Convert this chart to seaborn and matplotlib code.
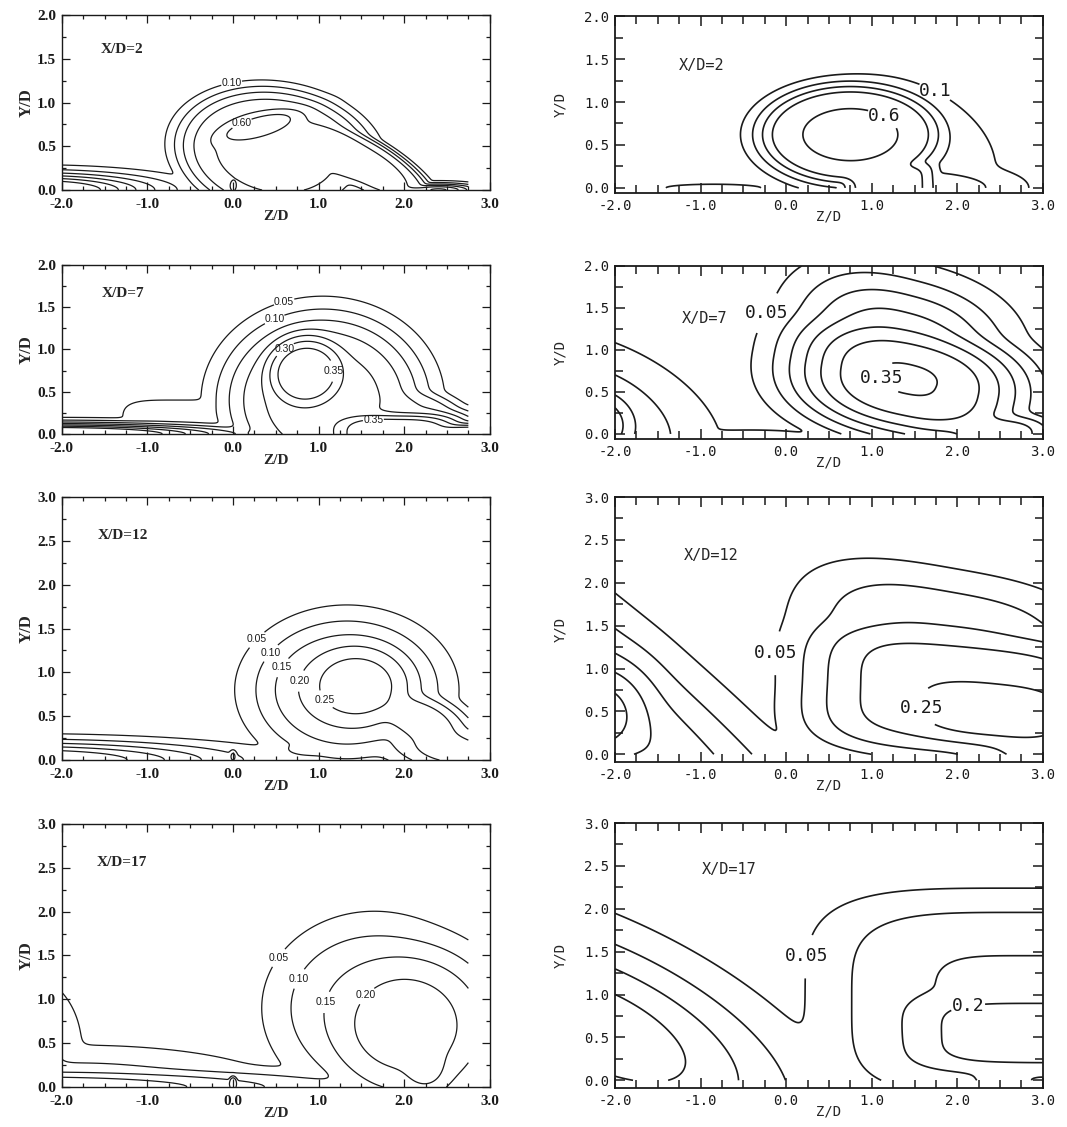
import numpy as np
import matplotlib
matplotlib.use("Agg")
import matplotlib.pyplot as plt
import seaborn as sns

# ---------------------------------------------------------------------------
# Data: concentration fields, built from plume "blobs"
# blob = (z centre, y centre, peak, spread along, spread across, tilt deg,
#         edge sharpness p, squareness q)
# c* = computed (left column), e* = measured (right column)
# ---------------------------------------------------------------------------
c2_blobs = [
    (0.50, 0.42, 0.52, 1.20, 0.76, -8, 6, 2),
    (1.55, 0.28, 0.52, 0.95, 0.32, -30, 6, 2),
    (0.30, 0.72, 0.75, 0.70, 0.20, 15, 2, 2),
    (2.40, 0.00, 0.62, 0.50, 0.08, 0, 2, 2),
    (-2.30, 0.00, 0.80, 1.40, 0.20, 0, 2, 2),
    (0.00, 0.04, 0.58, 0.06, 0.10, 0, 2, 2),
]
c2_levels = [0.1, 0.2, 0.3, 0.4, 0.5, 0.6]
c2_labels = [(0.10, -0.02, 1.24), (0.60, 0.12, 0.72)]

c7_blobs = [
    (1.05, 0.40, 0.27, 1.25, 1.08, 0, 4, 2),
    (0.85, 0.72, 0.40, 0.60, 0.55, 10, 3, 2),
    (-2.20, 0.00, 0.50, 2.30, 0.13, 0, 2, 2),
    (-0.65, 0.12, 0.085, 0.75, 0.33, 0, 4, 4),
    (1.90, 0.00, 0.42, 0.95, 0.30, 0, 3, 3),
    (2.20, 0.25, 0.20, 0.70, 0.30, -20, 3, 2),
    (2.80, 0.00, 0.45, 0.80, 0.16, 0, 2, 2),
]
c7_levels = [0.05, 0.10, 0.15, 0.20, 0.25, 0.30, 0.35]
c7_labels = [(0.05, 0.58, 1.63), (0.10, 0.45, 1.45), (0.30, 0.62, 0.98),
             (0.35, 1.10, 0.74), (0.35, 1.63, 0.39)]

c12_blobs = [
    (1.33, 0.80, 0.22, 1.15, 0.85, 0, 3, 2),
    (1.45, 0.85, 0.27, 0.80, 0.60, 0, 3, 2),
    (2.20, 0.45, 0.23, 0.70, 0.35, -20, 3, 2),
    (2.55, 0.12, 0.235, 1.00, 0.36, -8, 2, 2),
    (-2.50, 0.00, 0.33, 2.40, 0.22, 0, 2, 2),
    (0.85, 0.12, 0.12, 0.40, 0.12, 0, 2, 2),
    (0.00, 0.04, 0.17, 0.06, 0.10, 0, 2, 2),
]
c12_levels = [0.05, 0.10, 0.15, 0.20, 0.25]
c12_labels = [(0.05, 0.28, 1.37), (0.10, 0.44, 1.22), (0.15, 0.60, 1.04),
              (0.20, 0.83, 0.89), (0.25, 1.14, 0.74)]

c17_blobs = [
    (1.65, 0.90, 0.16, 1.25, 1.05, 0, 3, 2),
    (2.05, 0.70, 0.225, 1.15, 1.00, 0, 3, 2),
    (2.25, 0.20, 0.215, 0.45, 0.45, 0, 2, 2),
    (-2.45, 0.45, 0.15, 0.65, 0.80, 0, 2, 2),
    (-1.80, 0.00, 0.14, 2.30, 0.47, 0, 2, 2),
    (-2.60, 0.00, 0.26, 4.00, 0.22, 0, 2, 2),
    (0.00, 0.04, 0.30, 0.06, 0.10, 0, 2, 2),
]
c17_levels = [0.05, 0.10, 0.15, 0.20]
c17_labels = [(0.05, 0.51, 1.49), (0.10, 0.76, 1.24), (0.15, 1.04, 0.98),
              (0.20, 1.42, 1.18)]

e2_blobs = [
    (0.75, 0.62, 0.64, 1.10, 0.60, 0, 4, 2),
    (1.40, 0.50, 0.20, 1.25, 0.80, -25, 3, 2),
    (1.20, 0.00, 0.43, 0.60, 0.35, 0, 6, 6),
    (1.90, 0.00, 0.24, 1.00, 0.30, 0, 2, 2),
    (-0.85, 0.00, 0.12, 1.30, 0.10, 0, 2, 2),
]
e2_levels = [0.1, 0.2, 0.3, 0.4, 0.6]
e2_labels = [(0.1, 1.75, 1.14), (0.6, 1.08, 0.72)]

e7_blobs = [
    (1.45, 0.62, 0.351, 1.50, 0.75, -12, 3, 2.5),
    (1.30, 1.00, 0.24, 1.30, 0.90, -15, 2.5, 2.5),
    (2.50, 0.00, 0.29, 0.80, 0.30, 0, 2.5, 2.5),
    (-2.30, 0.10, 0.30, 0.60, 0.50, 0, 2, 2),
    (-2.40, 0.20, 0.16, 1.60, 0.90, -20, 2, 2),
    (-0.40, 0.00, 0.07, 1.00, 0.08, 0, 2, 2),
]
e7_levels = [0.05, 0.10, 0.15, 0.20, 0.25, 0.30, 0.35]
e7_labels = [(0.05, -0.10, 1.37), (0.35, 1.07, 0.65)]

e12_blobs = [
    (2.45, 0.50, 0.275, 1.40, 0.50, -5, 3, 3),
    (2.10, 0.70, 0.23, 2.00, 0.85, -5, 4, 4),
    (1.80, 1.20, 0.15, 1.80, 0.95, -10, 3, 3),
    (3.00, 0.00, 0.21, 1.30, 0.35, 0, 2, 2),
    (-2.20, 0.45, 0.28, 0.85, 0.85, 0, 2, 2),
    (-2.20, 0.60, 0.20, 4.50, 0.95, -40, 2, 2),
    (0.25, 0.05, 0.06, 0.60, 0.25, 0, 2, 2),
]
e12_levels = [0.05, 0.10, 0.15, 0.20, 0.25]
e12_labels = [(0.05, 0.04, 1.17), (0.25, 1.75, 0.55)]

e17_blobs = [
    (3.00, 0.55, 0.225, 1.90, 0.55, 0, 4, 4),
    (2.80, 0.90, 0.155, 2.50, 1.30, 0, 4, 4),
    (3.00, 0.00, 0.20, 1.30, 0.30, 0, 2, 2),
    (-2.20, 0.60, 0.24, 2.60, 1.05, -25, 2, 2),
]
e17_levels = [0.05, 0.10, 0.15, 0.20]
e17_labels = [(0.05, 0.28, 1.44), (0.2, 2.14, 0.77)]

stations = ["X/D=2", "X/D=7", "X/D=12", "X/D=17"]
station_pos_c = [(-1.55, 1.61), (-1.54, 1.66), (-1.58, 2.56), (-1.59, 2.56)]
station_pos_e = [(-1.25, 1.42), (-1.22, 1.37), (-1.19, 2.32), (-0.98, 2.46)]
y_tops = [2.0, 2.0, 3.0, 3.0]
z_ticks = [-2.0, -1.0, 0.0, 1.0, 2.0, 3.0]

SERIF = ["Liberation Serif", "DejaVu Serif"]
MONO = ["DejaVu Sans Mono"]
SANS = ["Liberation Sans", "DejaVu Sans"]


def build_field(blobs, z_max, y_max, union=6):
    """Smooth union of the blobs on a regular (z, y) grid."""
    z = np.linspace(-2.0, z_max, 420)
    y = np.linspace(0.0, y_max, 260)
    zz, yy = np.meshgrid(z, y)
    acc = np.zeros_like(zz)
    for z0, y0, peak, su, sv, tilt, p, q in blobs:
        t = np.deg2rad(tilt)
        dz, dy = zz - z0, yy - y0
        u = dz * np.cos(t) + dy * np.sin(t)
        v = -dz * np.sin(t) + dy * np.cos(t)
        r = (np.abs(u / su) ** q + np.abs(v / sv) ** q) ** (1.0 / q)
        acc += (peak * np.exp(-r ** p)) ** union
    return zz, yy, acc ** (1.0 / union)


def style_computed(ax, y_max):
    ax.set_xlim(-2, 3)
    ax.set_ylim(0, y_max)
    y_ticks = np.arange(0, y_max + 0.01, 0.5)
    ax.set_xticks(z_ticks, labels=[f"{t:.1f}" for t in z_ticks],
                  fontweight="bold", family=SERIF, fontsize=11)
    ax.set_yticks(y_ticks, labels=[f"{t:.1f}" for t in y_ticks],
                  fontweight="bold", family=SERIF, fontsize=11)
    ax.set_xticks(np.arange(-2, 3.01, 0.25), minor=True)
    ax.set_yticks(np.arange(0, y_max + 0.01, 0.25), minor=True)
    ax.tick_params(which="both", direction="in", top=True, right=True,
                   width=0.9, colors="k")
    ax.tick_params(which="major", length=6)
    ax.tick_params(which="minor", length=3)
    ax.tick_params(axis="x", which="major", pad=6)
    ax.tick_params(axis="y", which="major", pad=4)
    ax.set_xlabel("Z/D", fontweight="bold", family=SERIF, fontsize=11,
                  labelpad=-1)
    ax.set_ylabel("Y/D", fontweight="bold", family=SERIF, fontsize=12,
                  labelpad=2)
    for s in ax.spines.values():
        s.set_linewidth(1.0)
        s.set_color("k")


def style_measured(ax, y_max):
    ax.set_xlim(-2, 3)
    ax.set_ylim(-0.03 * y_max, y_max)
    y_ticks = np.arange(0, y_max + 0.01, 0.5)
    ax.set_xticks(z_ticks, labels=[f"{t:.1f}" for t in z_ticks],
                  family=MONO, fontsize=10)
    ax.set_yticks(y_ticks, labels=[f"{t:.1f}" for t in y_ticks],
                  family=MONO, fontsize=10)
    ax.set_xticks(np.arange(-2, 3.01, 0.25), minor=True)
    ax.set_yticks(np.arange(0, y_max + 0.01, 0.25), minor=True)
    ax.tick_params(which="both", direction="in", top=True, right=True,
                   width=1.1, colors="k")
    ax.tick_params(which="major", length=7, pad=4)
    ax.tick_params(which="minor", length=6)
    ax.set_xlabel("Z/D", family=MONO, fontsize=10, labelpad=-2)
    ax.set_ylabel("Y/D", family=MONO, fontsize=10, labelpad=12)
    for s in ax.spines.values():
        s.set_linewidth(1.3)
        s.set_color("k")


def draw_panel(ax, blobs, levels, labels, z_max, y_max, computed):
    zz, yy, field = build_field(blobs, z_max, y_max)
    fam = SANS if computed else MONO
    size = 7.5 if computed else 13
    # one contour set per level so each label lands on its own isoline
    for lev in levels:
        if field.max() <= lev:
            continue
        cs = ax.contour(zz, yy, field, levels=[lev], colors="k",
                        linewidths=0.9 if computed else 1.2,
                        linestyles="solid")
        spots = [(lz, ly) for l, lz, ly in labels if abs(l - lev) < 1e-9]
        if not spots:
            continue
        fmt = f"{lev:.2f}" if computed else f"{lev:g}"
        with plt.rc_context({"font.family": fam}):
            texts = ax.clabel(cs, manual=spots, inline=True, inline_spacing=1,
                              fmt={cs.levels[0]: fmt}, fontsize=size)
        for t in texts:
            t.set_rotation(0)


sns.set_theme(style="ticks")
plt.rcParams["font.family"] = ["DejaVu Sans"]
plt.rcParams["axes.unicode_minus"] = False

fig = plt.figure(figsize=(10.67, 11.27), dpi=100)
fig.patch.set_facecolor("white")

left_boxes = [[0.058, 0.8314, 0.401, 0.1553], [0.058, 0.6149, 0.401, 0.1500],
              [0.058, 0.3256, 0.401, 0.2334], [0.058, 0.0355, 0.401, 0.2334]]
right_boxes = [[0.5764, 0.8287, 0.401, 0.1570], [0.5764, 0.6105, 0.401, 0.1535],
               [0.5764, 0.3239, 0.401, 0.2351], [0.5764, 0.0346, 0.401, 0.2351]]

computed = [(c2_blobs, c2_levels, c2_labels), (c7_blobs, c7_levels, c7_labels),
            (c12_blobs, c12_levels, c12_labels), (c17_blobs, c17_levels, c17_labels)]
measured = [(e2_blobs, e2_levels, e2_labels), (e7_blobs, e7_levels, e7_labels),
            (e12_blobs, e12_levels, e12_labels), (e17_blobs, e17_levels, e17_labels)]

for i in range(4):
    y_max = y_tops[i]

    ax = fig.add_axes(left_boxes[i])
    blobs, levels, labels = computed[i]
    draw_panel(ax, blobs, levels, labels, 2.75, y_max, True)
    style_computed(ax, y_max)
    ax.text(*station_pos_c[i], stations[i], ha="left", va="center",
            fontweight="bold", family=SERIF, fontsize=11)

    ax = fig.add_axes(right_boxes[i])
    blobs, levels, labels = measured[i]
    draw_panel(ax, blobs, levels, labels, 3.0, y_max, False)
    style_measured(ax, y_max)
    ax.text(*station_pos_e[i], stations[i], ha="left", va="center",
            family=MONO, fontsize=11)

fig.savefig("out.png", dpi=100, facecolor="white")
